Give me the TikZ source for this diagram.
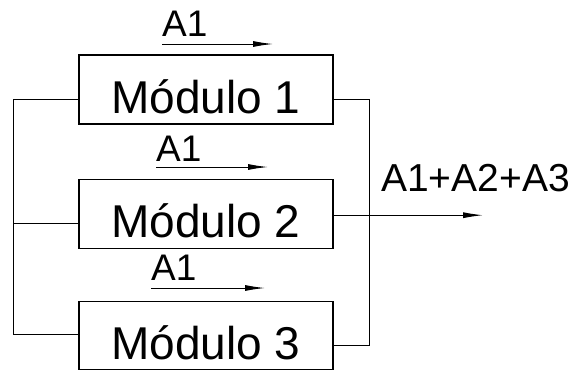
\documentclass[tikz,border=0pt]{standalone}
\usepackage{fontspec}
\setmainfont{Liberation Sans}
\usetikzlibrary{arrows.meta,positioning}

\tikzset{
	modbox/.style={draw, line width=1.2pt, minimum width=254pt, minimum height=69pt, inner sep=0pt, text height=58pt, text depth=11pt, font=\fontsize{46}{46}\selectfont},
	wire/.style={line width=1pt},
	flow/.style={line width=1pt, -{Latex[length=20pt,width=6pt]}},
	flowlabel/.style={anchor=base west, inner sep=0pt, font=\fontsize{37}{37}\selectfont}
}

\begin{document}
\begin{tikzpicture}[x=1pt, y=-1pt]

		\useasboundingbox (0,0) rectangle (571,370);

		% modules
		\node[modbox] (mod1) at (206,89.5) {Módulo 1};
		\node[modbox, below=54pt of mod1] (mod2) {Módulo 2};
		\node[modbox, below=52pt of mod2, minimum height=68pt, text height=58pt, text depth=10pt] (mod3) {Módulo 3};

		% input bus on the left
		\coordinate (busL) at (13,0);
		\coordinate (in1) at ([yshift=-9.5pt]mod1.west);
		\coordinate (in2) at ([yshift=-9.5pt]mod2.west);
		\coordinate (in3) at ([yshift=1pt]mod3.west);
		\draw[wire] (in1) -- (busL |- in1) -- (busL |- in3) -- (in3);
		\draw[wire] (in2) -- (busL |- in2);

		% output bus on the right
		\coordinate (busR) at (369,0);
		\coordinate (out1) at ([yshift=-9.5pt]mod1.east);
		\coordinate (out2) at ([yshift=-1.5pt]mod2.east);
		\coordinate (out3) at ([yshift=-10pt]mod3.east);
		\coordinate (sum) at (483,0);
		\draw[wire] (out1) -- (busR |- out1) -- (busR |- out3) -- (out3);
		\draw[flow] (out2) -- (sum |- out2);
		\node[flowlabel, font=\fontsize{39}{39}\selectfont] (sumlabel) at (381,191) {A1+A2+A3};

		% flow arrows above the modules
		\coordinate (a1s) at (162,44);
		\coordinate (a1e) at (273,44);
		\coordinate (a2s) at (156,167);
		\coordinate (a2e) at (268,167);
		\coordinate (a3s) at (151,288);
		\coordinate (a3e) at (265,288);
		\draw[flow] (a1s) -- (a1e);
		\draw[flow] (a2s) -- (a2e);
		\draw[flow] (a3s) -- (a3e);
		\node[flowlabel, yshift=8pt] (lab1) at (a1s) {A1};
		\node[flowlabel, yshift=6pt] (lab2) at (a2s) {A1};
		\node[flowlabel, yshift=8pt] (lab3) at (a3s) {A1};

\end{tikzpicture}
\end{document}
